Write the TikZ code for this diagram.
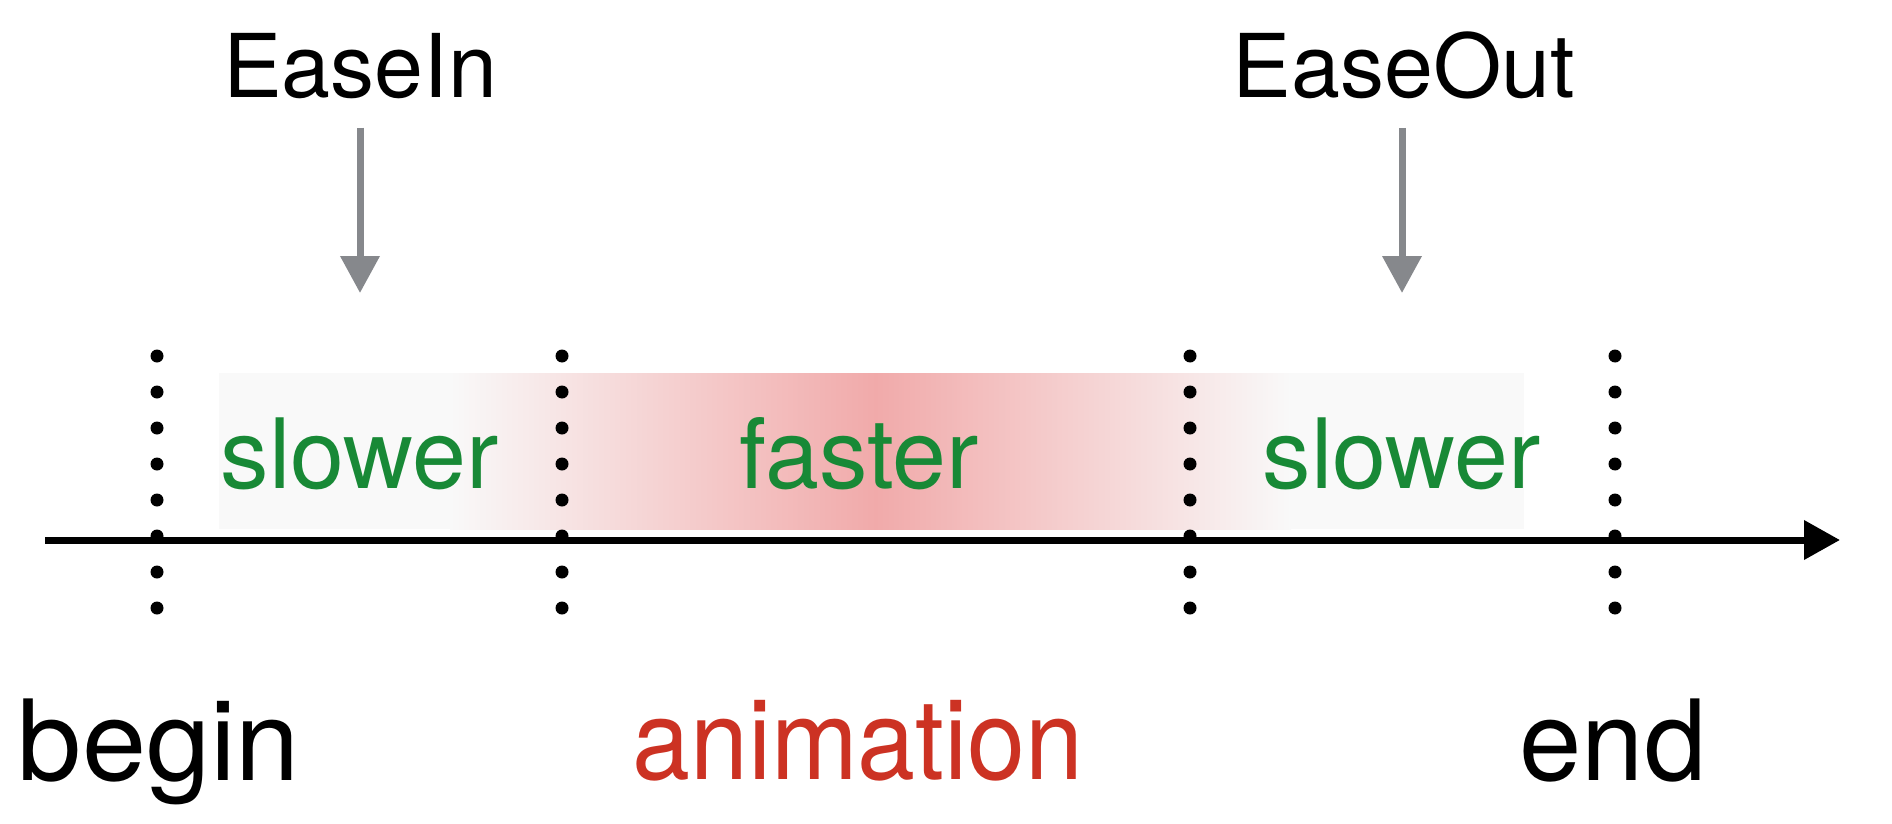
\documentclass[tikz,border=0pt]{standalone}
\usepackage{fontspec}
\setmainfont{TeX Gyre Heros}
\usetikzlibrary{arrows.meta}
\definecolor{txtgreen}{RGB}{24,137,54}
\definecolor{txtred}{RGB}{204,50,35}
\definecolor{arrgray}{RGB}{134,136,140}
\definecolor{bandgray}{RGB}{249,249,249}
\definecolor{bandpeak}{RGB}{241,170,170}
\tikzset{
  toplabel/.style={anchor=base, inner sep=0pt, text=black, font=\fontsize{88}{90}\selectfont},
  speedlabel/.style={anchor=base, inner sep=0pt, text=txtgreen, font=\fontsize{97}{100}\selectfont},
  bottomlabel/.style={anchor=base, inner sep=0pt, font=\fontsize{112}{115}\selectfont},
  garrow/.style={draw=arrgray, line width=7pt, shorten <=28pt, -{Triangle[length=37pt,width=38pt]}},
  axisline/.style={draw=black, line width=7pt, -{Triangle[length=36pt,width=38pt]}},
  tickdot/.style={fill=black},
}
\begin{document}
\begin{tikzpicture}[x=1pt,y=-1pt]
\useasboundingbox (0,0) rectangle (1892,824);
% shaded band
\fill[bandgray] (219,373) rectangle (451,529);
\shade[left color=bandgray, right color=bandpeak] (450,373) rectangle (876,529);
\shade[left color=bandpeak, right color=bandgray] (875,373) rectangle (1291,529);
\fill[bandgray] (1290,373) rectangle (1524,529);
% speed labels
\node[speedlabel] (slowA) at (360,488) {slower};
\node[speedlabel] (fast) at (859,488) {faster};
\node[speedlabel] (slowB) at (1402,488) {slower};
% axis
\coordinate (axA) at (45,540);
\coordinate (axB) at (1840,540);
\draw[axisline] (axA) -- (axB);
% dotted markers
\foreach \x in {157,562,1190,1615}{
  \foreach \k in {0,...,7}{
    \fill[tickdot] (\x,356+36*\k) circle (6.5pt);
  }
}
% top labels and arrows
\node[toplabel] (easein) at (360,98) {EaseIn};
\node[toplabel] (easeout) at (1404,98) {EaseOut};
\coordinate (inTip) at (360,293);
\coordinate (outTip) at (1402,293);
\draw[garrow] (easein.south) -- (inTip);
\draw[garrow] (easeout.south -| outTip) -- (outTip);
% bottom labels
\node[bottomlabel, text=black] (begin) at (159,780) {\scalebox{1.03}[1]{begin}};
\node[bottomlabel, text=txtred] (anim) at (858,779) {\scalebox{0.93}[1]{animation}};
\node[bottomlabel, text=black] (endl) at (1613,780) {end};
\end{tikzpicture}
\end{document}
